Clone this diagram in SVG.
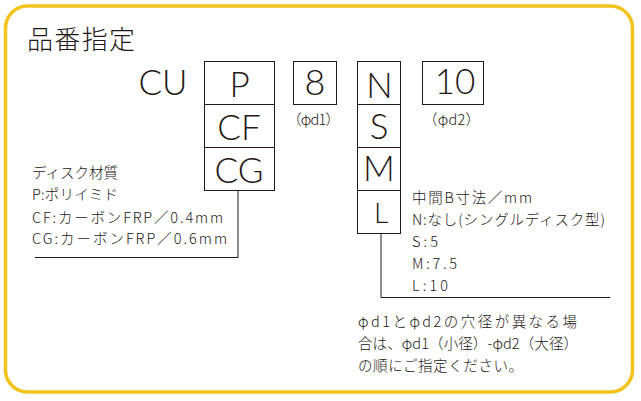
<svg xmlns="http://www.w3.org/2000/svg" width="641" height="401" viewBox="0 0 641 401">
<style>
.box{fill:#fff;stroke:#231815;stroke-width:1}
.big{font-family:Lato,"Liberation Sans",Arial,sans-serif;font-size:35px;font-weight:300;fill:#231815;text-anchor:middle}
.sm{font-family:"Noto Sans CJK JP","Noto Sans",sans-serif;font-size:14.5px;font-weight:300;fill:#231815}
.ttl{font-family:"Noto Sans CJK JP",sans-serif;font-size:26px;font-weight:300;fill:#231815}
.conn{fill:none;stroke:#231815;stroke-width:1}
</style>
<rect x="0" y="0" width="641" height="401" fill="#fff"/>
<rect x="5.5" y="6" width="627" height="386" rx="22" ry="22" fill="#fff" stroke="#F2C31B" stroke-width="3.5"/>
<g id="title"><text class="ttl" x="27" y="49" textLength="108">品番指定</text></g>
<g id="cu"><text class="big" x="163" y="95" textLength="49">CU</text></g>
<g id="material">
<rect class="box" x="204.5" y="61.5" width="70" height="43"/>
<text class="big" x="239.5" y="97">P</text>
<rect class="box" x="204.5" y="104.5" width="70" height="43"/>
<text class="big" x="239" y="139.5">CF</text>
<rect class="box" x="204.5" y="147.5" width="70" height="43"/>
<text class="big" x="239" y="182.5">CG</text>
</g>
<g id="d1">
<rect class="box" x="293.5" y="61.5" width="43" height="43"/>
<text class="big" x="315" y="95" style="font-size:36px">8</text>
<text class="sm" x="287" y="125" textLength="53">（φd1）</text>
</g>
<g id="bsize">
<rect class="box" x="357.5" y="61.5" width="43" height="43"/>
<text class="big" x="379.5" y="97.5">N</text>
<rect class="box" x="357.5" y="104.5" width="43" height="43"/>
<text class="big" x="379" y="139">S</text>
<rect class="box" x="357.5" y="147.5" width="43" height="43"/>
<text class="big" x="379" y="181">M</text>
<rect class="box" x="357.5" y="190.5" width="43" height="43"/>
<text class="big" x="381" y="223" style="font-size:28px">L</text>
</g>
<g id="d2">
<rect class="box" x="422.5" y="61.5" width="61" height="43"/>
<text class="big" x="455" y="93.5">10</text>
<text class="sm" x="423" y="125" textLength="57">（φd2）</text>
</g>
<g id="connectors">
<polyline class="conn" points="238,190.5 238,257.5 35,257.5"/>
<polyline class="conn" points="381,233.5 381,297.5 610,297.5"/>
</g>
<g id="material-note">
<text class="sm" x="32" y="178" textLength="86">ディスク材質</text>
<text class="sm" x="32" y="199.5" textLength="86">P:ポリイミド</text>
<text class="sm" x="32" y="222.5" textLength="191">CF:カーボンFRP／0.4mm</text>
<text class="sm" x="32" y="244" textLength="195">CG:カーボンFRP／0.6mm</text>
</g>
<g id="bsize-note">
<text class="sm" x="412" y="203" textLength="120">中間B寸法／mm</text>
<text class="sm" x="412" y="225" textLength="193">N:なし(シングルディスク型)</text>
<text class="sm" x="412" y="247" textLength="26">S:5</text>
<text class="sm" x="412" y="269" textLength="45">M:7.5</text>
<text class="sm" x="412" y="291" textLength="36">L:10</text>
</g>
<g id="d-note">
<text class="sm" x="358" y="327" textLength="219">φd1とφd2の穴径が異なる場</text>
<text class="sm" x="358" y="349" textLength="220">合は、φd1（小径）-φd2（大径）</text>
<text class="sm" x="358" y="371" textLength="165">の順にご指定ください。</text>
</g>
</svg>
